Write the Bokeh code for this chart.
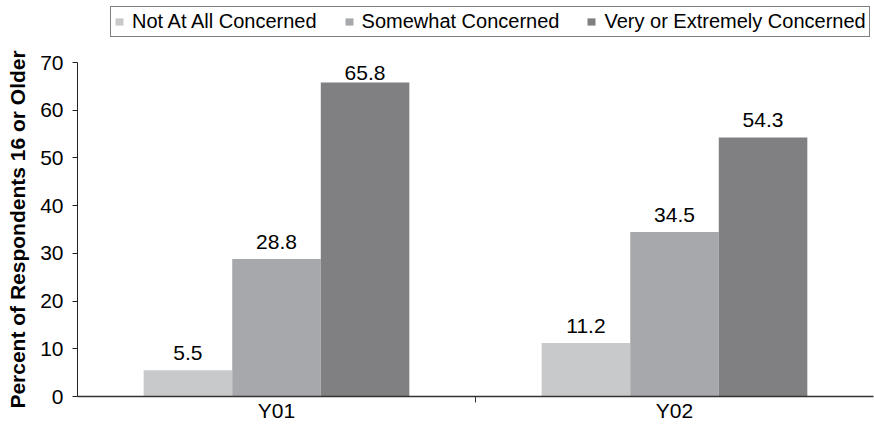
from bokeh.plotting import figure
from bokeh.layouts import column
from bokeh.models import (ColumnDataSource, FixedTicker, Legend, LegendItem,
                          LabelSet, Range1d)
from bokeh.core.properties import value
from bokeh.embed import file_html
from bokeh.resources import INLINE
import numpy as np

years = ["Y01", "Y02"]
series = ["Not At All Concerned", "Somewhat Concerned", "Very or Extremely Concerned"]
not_at_all = [5.5, 11.2]
somewhat = [28.8, 34.5]
very = [65.8, 54.3]
y_ticks = [0, 10, 20, 30, 40, 50, 60, 70]

colors = ["#c8c9cb", "#a7a8ab", "#808083"]
FONT = "Liberation Sans"
bar_w = 0.2225

# ---- main bar chart ----
p = figure(width=874, height=386, output_backend="svg", toolbar_location=None,
           x_range=Range1d(0, len(years)), y_range=Range1d(0, 70),
           min_border_left=77, min_border_right=1, min_border_top=24,
           min_border_bottom=28)
p.outline_line_color = None
p.background_fill_color = "white"

centers = np.arange(len(years)) + 0.5
all_x, all_y, all_txt, all_off = [], [], [], []
for i, (name, vals) in enumerate(zip(series, [not_at_all, somewhat, very])):
    xs = centers + (i - 1) * bar_w
    src = ColumnDataSource(dict(x=xs, top=vals))
    p.vbar(x="x", top="top", width=bar_w, bottom=0, source=src,
           fill_color=colors[i], line_color=None)
    for xv, v in zip(xs, vals):
        all_x.append(xv)
        all_y.append(v)
        all_txt.append(f"{v:.1f}")
        all_off.append(3 if v > 62 else 10)

lab_src = ColumnDataSource(dict(x=all_x, y=all_y, t=all_txt, off=all_off))
labels = LabelSet(x="x", y="y", text="t", y_offset="off", source=lab_src,
                  text_align="center", text_baseline="alphabetic",
                  text_font=value(FONT), text_font_size=value("21px"),
                  text_color="black")
p.add_layout(labels)

# x axis: category names at group centres, a short tick between groups
p.xaxis.ticker = FixedTicker(ticks=list(centers), minor_ticks=[1.0])
p.xaxis.major_label_overrides = {float(c): y for c, y in zip(centers, years)}
p.xaxis.major_tick_out = 0
p.xaxis.major_tick_in = 0
p.xaxis.minor_tick_out = 6
p.xaxis.minor_tick_in = 0
p.xaxis.minor_tick_line_color = "#333333"
p.xaxis.axis_line_color = "#333333"
p.xaxis.axis_line_width = 1.5
p.xaxis.major_label_text_font = FONT
p.xaxis.major_label_text_font_size = "21px"
p.xaxis.major_label_text_color = "black"
p.xaxis.major_label_standoff = -4

p.yaxis.ticker = FixedTicker(ticks=y_ticks)
p.yaxis.major_tick_out = 5
p.yaxis.major_tick_in = 0
p.yaxis.minor_tick_line_color = None
p.yaxis.axis_line_color = "#222222"
p.yaxis.major_tick_line_color = "#222222"
p.yaxis.major_label_text_font = FONT
p.yaxis.major_label_text_font_size = "21px"
p.yaxis.major_label_text_color = "black"
p.yaxis.major_label_standoff = 9
p.yaxis.axis_label = "Percent of Respondents 16 or Older"
p.yaxis.axis_label_text_font = FONT
p.yaxis.axis_label_text_font_size = "21px"
p.yaxis.axis_label_text_font_style = "bold"
p.yaxis.axis_label_text_color = "black"
p.yaxis.axis_label_standoff = 8

p.xgrid.grid_line_color = None
p.ygrid.ticker = FixedTicker(ticks=[70])
p.ygrid.grid_line_color = "#999999"
p.ygrid.grid_line_width = 1.5

# ---- legend strip on top ----
lf = figure(width=874, height=38, output_backend="svg", toolbar_location=None,
            x_range=Range1d(0, 1), y_range=Range1d(0, 1), min_border=0,
            x_axis_location=None, y_axis_location=None)
lf.outline_line_color = None
lf.grid.grid_line_color = None
swatches = []
for i in range(len(series)):
    # zero-height bars: they only carry the fill colour for the legend keys
    swatches.append(lf.vbar(x=[0.5], top=[0], bottom=[0], width=0.1,
                            fill_color=colors[i], line_color=None))

legend = Legend(items=[LegendItem(label=s, renderers=[r]) for s, r in zip(series, swatches)],
                orientation="horizontal", location=(33, 1))
legend.label_text_font = FONT
legend.label_text_font_size = "20px"
legend.label_text_color = "black"
legend.glyph_width = 10
legend.glyph_height = 9
legend.label_standoff = 8
legend.spacing = 27
legend.padding = 3
legend.margin = 0
legend.border_line_color = "black"
legend.border_line_width = 1
legend.background_fill_alpha = 1
lf.add_layout(legend, "center")

layout = column(lf, p, spacing=0)
open("out.html", "w").write(file_html(layout, INLINE))
